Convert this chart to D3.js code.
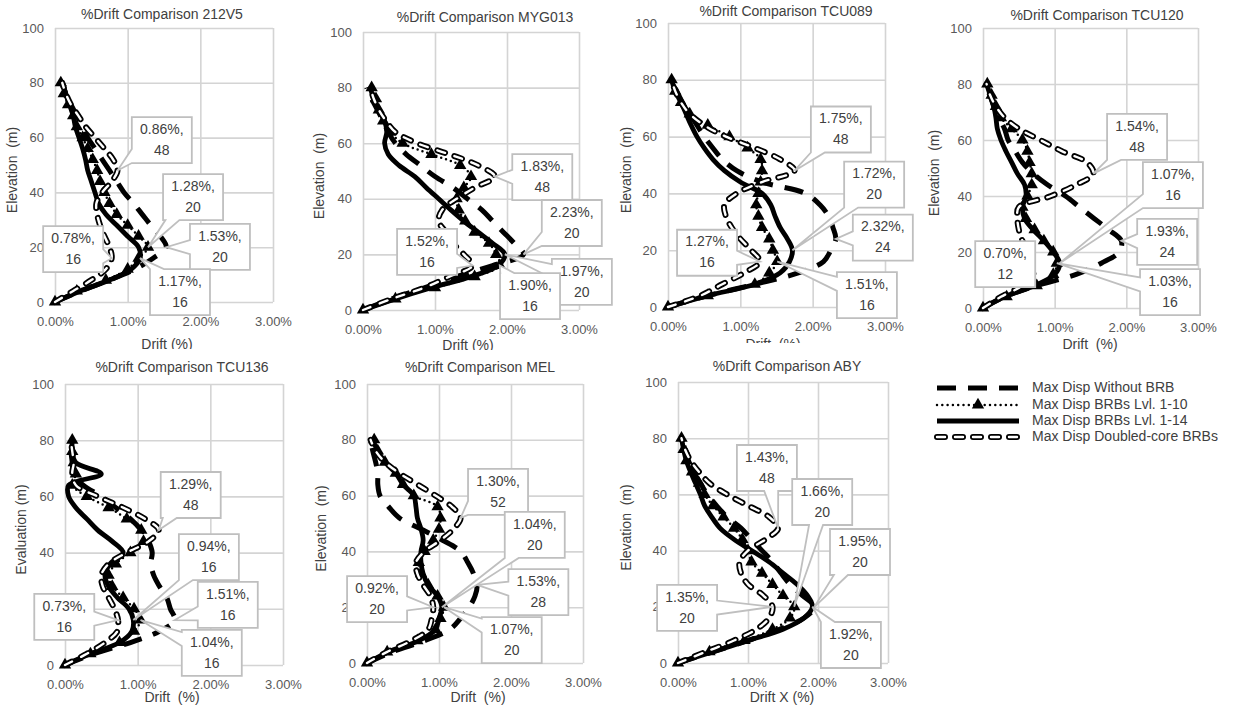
<!DOCTYPE html>
<html><head><meta charset="utf-8">
<script src="https://cdn.jsdelivr.net/npm/d3@7"></script>
<style>
html,body{margin:0;padding:0;background:#fff;}
svg{display:block;font-family:"Liberation Sans",Arial,sans-serif;}
</style></head>
<body>
<svg id="chart" width="1240" height="713"></svg>
<script>
// ---------- DATA ----------
const elevations = [0,4,8,12,16,20,24,28,32,36,40,44,48,52,56,60,64,68,72,76,80];
const seriesNames = ["Max Disp Without BRB","Max Disp BRBs Lvl. 1-10","Max Disp BRBs Lvl. 1-14","Max Disp Doubled-core BRBs"];
const panelNames = ["212V5","MYG013","TCU089","TCU120","TCU136","MEL","ABY"];
const xTicks = [0,1,2,3];
const yTicks = [0,20,40,60,80,100];
const yTitles = ["Elevation  (m)","Elevation  (m)","Elevation  (m)","Elevation  (m)","Evaluation (m)","Elevation  (m)","Elevation  (m)"];
const xTitles = ["Drift (%)","Drift (%)","Drift  (%)","Drift  (%)","Drift  (%)","Drift  (%)","Drift X (%)"];

// drift (%) per series [without BRB, Lvl 1-10, Lvl 1-14, doubled-core], at each elevation
const drift212V5 = [
 [0,0.35,0.75,1.1,1.35,1.53,1.45,1.32,1.2,1.08,0.95,0.85,0.75,0.65,0.55,0.45,0.38,0.3,0.22,0.15,0.1],
 [0,0.3,0.7,1.0,1.15,1.28,1.15,1.0,0.85,0.75,0.68,0.62,0.58,0.52,0.45,0.38,0.3,0.25,0.18,0.12,0.08],
 [0,0.35,0.75,1.05,1.17,1.15,1.0,0.85,0.7,0.6,0.55,0.5,0.45,0.42,0.38,0.33,0.28,0.25,0.2,0.15,0.1],
 [0,0.25,0.5,0.7,0.78,0.75,0.68,0.62,0.58,0.57,0.65,0.78,0.86,0.8,0.68,0.55,0.42,0.32,0.22,0.15,0.1]];
const driftMYG013 = [
 [0,0.4,0.85,1.3,1.8,2.23,2.1,1.95,1.8,1.65,1.45,1.25,1.0,0.8,0.6,0.45,0.35,0.28,0.2,0.12,0.05],
 [0,0.45,1.0,1.55,1.9,1.85,1.75,1.55,1.42,1.33,1.3,1.4,1.5,1.35,0.95,0.55,0.38,0.28,0.22,0.18,0.12],
 [0,0.45,0.95,1.5,1.88,1.97,1.8,1.6,1.4,1.22,1.05,0.88,0.72,0.5,0.35,0.3,0.33,0.3,0.22,0.15,0.1],
 [0,0.4,0.85,1.2,1.52,1.4,1.25,1.15,1.05,1.1,1.3,1.55,1.83,1.6,1.2,0.75,0.45,0.32,0.22,0.15,0.1]];
const driftTCU089 = [
 [0,0.55,1.2,1.8,2.15,2.25,2.32,2.28,2.22,2.1,1.9,1.3,0.95,0.75,0.62,0.5,0.4,0.3,0.2,0.12,0.05],
 [0,0.55,1.2,1.4,1.51,1.45,1.4,1.3,1.25,1.22,1.25,1.28,1.3,1.28,1.1,0.85,0.55,0.3,0.18,0.1,0.05],
 [0,0.55,1.2,1.55,1.68,1.72,1.65,1.55,1.48,1.42,1.3,1.0,0.78,0.62,0.5,0.4,0.32,0.25,0.18,0.1,0.05],
 [0,0.45,0.75,1.05,1.27,1.15,1.0,0.88,0.8,0.78,0.95,1.3,1.75,1.55,1.2,0.8,0.5,0.3,0.18,0.1,0.05]];
const driftTCU120 = [
 [0,0.3,0.75,1.3,1.65,1.9,1.93,1.75,1.55,1.35,1.15,0.9,0.7,0.55,0.45,0.35,0.3,0.22,0.15,0.1,0.05],
 [0,0.33,0.75,0.98,1.03,0.98,0.85,0.72,0.6,0.55,0.62,0.68,0.68,0.65,0.62,0.55,0.4,0.25,0.18,0.12,0.06],
 [0,0.3,0.72,1.0,1.07,0.98,0.85,0.7,0.58,0.55,0.6,0.58,0.48,0.4,0.32,0.25,0.2,0.18,0.15,0.1,0.05],
 [0,0.25,0.55,0.7,0.68,0.65,0.55,0.5,0.48,0.5,0.95,1.3,1.54,1.45,1.1,0.8,0.5,0.3,0.18,0.1,0.05]];
const driftTCU136 = [
 [0,0.4,0.9,1.3,1.51,1.45,1.4,1.3,1.22,1.18,1.2,1.15,1.05,0.9,0.7,0.5,0.25,0.12,0.1,0.08,0.05],
 [0,0.35,0.75,0.95,1.04,0.95,0.8,0.65,0.6,0.7,0.9,1.08,1.05,0.85,0.6,0.3,0.1,0.15,0.12,0.1,0.1],
 [0,0.35,0.75,0.92,0.94,0.88,0.72,0.6,0.55,0.62,0.8,0.65,0.45,0.3,0.15,0.05,0.05,0.5,0.15,0.1,0.1],
 [0,0.3,0.55,0.72,0.73,0.68,0.6,0.52,0.5,0.6,0.85,1.15,1.29,1.1,0.8,0.45,0.15,0.1,0.12,0.1,0.08]];
const driftMEL = [
 [0,0.35,0.8,1.15,1.3,1.42,1.5,1.53,1.48,1.4,1.3,1.05,0.75,0.45,0.3,0.18,0.15,0.15,0.12,0.08,0.05],
 [0,0.28,0.7,0.95,1.02,1.07,0.98,0.85,0.75,0.72,0.8,0.92,1.0,1.02,0.98,0.65,0.5,0.4,0.25,0.15,0.1],
 [0,0.3,0.72,0.95,1.0,1.04,0.98,0.85,0.78,0.75,0.75,0.78,0.75,0.7,0.68,0.65,0.5,0.4,0.25,0.15,0.08],
 [0,0.28,0.62,0.85,0.9,0.92,0.88,0.78,0.7,0.68,0.8,1.02,1.2,1.3,1.18,0.95,0.7,0.45,0.25,0.12,0.05]];
const driftABY = [
 [0,0.5,1.0,1.45,1.8,1.95,1.78,1.6,1.47,1.35,1.2,1.05,0.9,0.7,0.55,0.42,0.32,0.22,0.15,0.1,0.05],
 [0,0.45,0.95,1.35,1.6,1.66,1.5,1.35,1.2,1.05,1.0,0.92,0.8,0.65,0.5,0.38,0.3,0.2,0.12,0.08,0.05],
 [0,0.5,1.0,1.5,1.8,1.92,1.85,1.7,1.5,1.3,1.05,0.8,0.6,0.48,0.38,0.32,0.25,0.18,0.12,0.08,0.05],
 [0,0.4,0.8,1.12,1.3,1.35,1.22,1.0,0.9,0.88,1.0,1.25,1.43,1.3,1.0,0.7,0.45,0.3,0.18,0.1,0.05]];
const panelData = [drift212V5, driftMYG013, driftTCU089, driftTCU120, driftTCU136, driftMEL, driftABY];

// labelled points: [series index, elevation]
const labels212V5 = [[3,48],[1,20],[0,20],[3,16],[2,16]];
const labelsMYG013 = [[3,48],[0,20],[3,16],[2,20],[1,16]];
const labelsTCU089 = [[3,48],[2,20],[0,24],[3,16],[1,16]];
const labelsTCU120 = [[3,48],[2,16],[0,24],[3,12],[1,16]];
const labelsTCU136 = [[3,48],[2,16],[0,16],[3,16],[1,16]];
const labelsMEL = [[3,52],[2,20],[0,28],[3,20],[1,20]];
const labelsABY = [[3,48],[1,20],[0,20],[3,20],[2,20]];
const panelLabels = [labels212V5, labelsMYG013, labelsTCU089, labelsTCU120, labelsTCU136, labelsMEL, labelsABY];

// ---------- LAYOUT (positions, sizes) ----------
const panels = [
 {x:55, y:28, w:218,h:274, tx:162, ty:15, ytx:13, xtx:167, xty:345, clip:349},
 {x:363,y:32, w:216,h:278, tx:485, ty:18, ytx:320, xtx:468, xty:346, clip:350},
 {x:668,y:23, w:217,h:284, tx:786, ty:12, ytx:627, xtx:773, xty:345, clip:343},
 {x:983,y:28, w:215,h:280, tx:1097,ty:16, ytx:935, xtx:1090,xty:345, clip:null},
 {x:65, y:384,w:218,h:281, tx:182, ty:368,ytx:22, xtx:172, xty:698, clip:null},
 {x:367,y:384,w:216,h:279, tx:480, ty:368,ytx:322, xtx:478, xty:698, clip:null},
 {x:678,y:382,w:210,h:281, tx:787, ty:367,ytx:627, xtx:782, xty:698, clip:null}
];
// label box centres, in data units (drift %, elevation)
const boxPos = [
 [[1.47,59.1],[1.90,38.3],[2.27,20.1],[0.25,19.3],[1.72,3.6]],
 [[2.49,47.8],[2.90,31.3],[0.89,20.9],[3.04,10.1],[2.32,5.0]],
 [[2.39,62.5],[2.85,43.1],[2.97,24.4],[0.54,19.1],[2.75,4.2]],
 [[2.15,61.1],[2.65,43.9],[2.57,23.6],[0.31,15.7],[2.61,5.7]],
 [[1.73,60.5],[1.98,38.4],[2.24,21.4],[-0.01,17.1],[2.02,4.3]],
 [[1.82,61.3],[2.33,45.9],[2.38,25.4],[0.14,22.9],[2.01,8.2]],
 [[1.27,69.4],[2.06,57.3],[2.60,39.5],[0.13,19.6],[2.47,6.4]]
];
const BOX_W = 60, BOX_H = 46;
const GRID = "#d4d4d4", TXT = "#404040", TICK = "#595959", CALL = "#bfbfbf";

const svg = d3.select("#chart");
const defs = svg.append("defs");
const fmt = d3.format(".2f");

function drawSeries(g, s, pts) {
  const line = d3.line().x(d=>d[0]).y(d=>d[1]).curve(d3.curveCatmullRom.alpha(0.5));
  if (s === 0) {
    g.append("path").attr("d", line(pts)).attr("fill","none").attr("stroke","#000")
      .attr("stroke-width",5).attr("stroke-dasharray","19,12");
  } else if (s === 1) {
    g.append("path").attr("d", line(pts)).attr("fill","none").attr("stroke","#000")
      .attr("stroke-width",2.5).attr("stroke-linecap","round").attr("stroke-dasharray","0,5");
    g.selectAll(null).data(pts).join("path")
      .attr("d", d3.symbol(d3.symbolTriangle, 66))
      .attr("transform", d=>`translate(${d[0]},${d[1]})`).attr("fill","#000");
  } else if (s === 2) {
    g.append("path").attr("d", line(pts)).attr("fill","none").attr("stroke","#000")
      .attr("stroke-width",4.8);
  } else {
    g.append("path").attr("d", line(pts)).attr("fill","none").attr("stroke","#000")
      .attr("stroke-width",6).attr("stroke-linecap","round").attr("stroke-dasharray","8,10");
    g.append("path").attr("d", line(pts)).attr("fill","none").attr("stroke","#fff")
      .attr("stroke-width",2.4).attr("stroke-linecap","round").attr("stroke-dasharray","8,10");
  }
}

function calloutPath(bx, by, bw, bh, tx, ty) {
  const x0=bx-bw/2, x1=bx+bw/2, y0=by-bh/2, y1=by+bh/2, hb=7;
  const dx=tx-bx, dy=ty-by;
  if (tx>=x0 && tx<=x1 && ty>=y0 && ty<=y1) return `M${x0},${y0}H${x1}V${y1}H${x0}Z`;
  const cl=(v,a,b)=>Math.max(a,Math.min(b,v));
  if (Math.abs(dx)/(bw/2) > Math.abs(dy)/(bh/2)) {
    const iy = cl(by + dy*(bw/2)/Math.abs(dx), y0+hb, y1-hb);
    if (dx>0) return `M${x0},${y0}H${x1}V${iy-hb}L${tx},${ty}L${x1},${iy+hb}V${y1}H${x0}Z`;
    return `M${x0},${y0}H${x1}V${y1}H${x0}V${iy+hb}L${tx},${ty}L${x0},${iy-hb}Z`;
  } else {
    const ix = cl(bx + dx*(bh/2)/Math.abs(dy), x0+hb, x1-hb);
    if (dy>0) return `M${x0},${y0}H${x1}V${y1}H${ix+hb}L${tx},${ty}L${ix-hb},${y1}H${x0}Z`;
    return `M${x0},${y0}H${ix-hb}L${tx},${ty}L${ix+hb},${y0}H${x1}V${y1}H${x0}Z`;
  }
}

panels.forEach((p, i) => {
  const g = svg.append("g");
  const x = d3.scaleLinear().domain([0,3]).range([p.x, p.x+p.w]);
  const y = d3.scaleLinear().domain([0,100]).range([p.y+p.h, p.y]);

  // title
  g.append("text").attr("x",p.tx).attr("y",p.ty).attr("text-anchor","middle")
    .attr("dominant-baseline","middle").attr("font-size",14).attr("fill",TXT)
    .text("%Drift Comparison " + panelNames[i]);

  // grid
  const xAx = d3.axisBottom(x).tickValues(xTicks).tickSize(-p.h).tickFormat(d=>fmt(d)+"%");
  const yAx = d3.axisLeft(y).tickValues(yTicks).tickSize(-p.w).tickFormat(d3.format("d"));
  const gx = g.append("g").attr("transform",`translate(0,${p.y+p.h})`).call(xAx);
  const gy = g.append("g").attr("transform",`translate(${p.x},0)`).call(yAx);
  [gx,gy].forEach(a=>{
    a.select(".domain").remove();
    a.selectAll(".tick line").attr("stroke",GRID).attr("stroke-width",1.6);
    a.selectAll(".tick text").attr("fill",TICK).attr("font-size",13)
      .attr("font-family","Liberation Sans, Arial, sans-serif");
  });
  gx.selectAll(".tick text").attr("dy",null).attr("dominant-baseline","middle").attr("y",21);
  gy.selectAll(".tick text").attr("x",-11);

  // axis titles
  g.append("text").attr("transform",`translate(${p.ytx},${p.y+p.h/2+5}) rotate(-90)`)
    .attr("text-anchor","middle").attr("dominant-baseline","middle")
    .attr("font-size",14).attr("fill",TXT).style("white-space","pre").text(yTitles[i]);
  const xt = g.append("text").attr("x",p.xtx).attr("y",p.xty).attr("text-anchor","middle")
    .attr("dominant-baseline","middle").attr("font-size",14).attr("fill",TXT)
    .style("white-space","pre").text(xTitles[i]);
  if (p.clip) {
    const id = "clip"+i;
    defs.append("clipPath").attr("id",id).append("rect")
      .attr("x",p.x-60).attr("y",p.xty-20).attr("width",p.w+120).attr("height",p.clip-(p.xty-20));
    xt.attr("clip-path",`url(#${id})`);
  }

  // series
  const data = panelData[i];
  data.forEach((vals, s) => {
    const pts = vals.map((v,k)=>[x(v), y(elevations[k])]);
    drawSeries(g.append("g"), s, pts);
  });

  // callout labels
  panelLabels[i].forEach((lab, k) => {
    const [s, e] = lab;
    const idx = elevations.indexOf(e);
    const v = data[s][idx];
    const tx = x(v), ty = y(e);
    const bx = x(boxPos[i][k][0]), by = y(boxPos[i][k][1]);
    g.append("path").attr("d", calloutPath(bx,by,BOX_W,BOX_H,tx,ty))
      .attr("fill","#fff").attr("stroke",CALL).attr("stroke-width",1.8);
    const t = g.append("text").attr("text-anchor","middle").attr("font-size",14).attr("fill",TXT);
    t.append("tspan").attr("x",bx).attr("y",by-10).attr("dominant-baseline","middle").text(fmt(v)+"%,");
    t.append("tspan").attr("x",bx).attr("y",by+11).attr("dominant-baseline","middle").text(e);
  });
});

// legend
const lg = svg.append("g");
const legY = [388,405,421,437];
seriesNames.forEach((name, s) => {
  const yy = legY[s];
  const pts = [[937,yy],[1019,yy]];
  const gg = lg.append("g");
  if (s === 1) {
    gg.append("line").attr("x1",937).attr("x2",1019).attr("y1",yy).attr("y2",yy)
      .attr("stroke","#000").attr("stroke-width",2.5).attr("stroke-linecap","round").attr("stroke-dasharray","0,5.3");
    gg.append("path").attr("d", d3.symbol(d3.symbolTriangle, 66)).attr("transform",`translate(978,${yy})`).attr("fill","#000");
  } else {
    drawSeries(gg, s, pts);
  }
  lg.append("text").attr("x",1032).attr("y",yy).attr("dominant-baseline","middle")
    .attr("font-size",14).attr("fill",TXT).text(name);
});
</script>
</body></html>
